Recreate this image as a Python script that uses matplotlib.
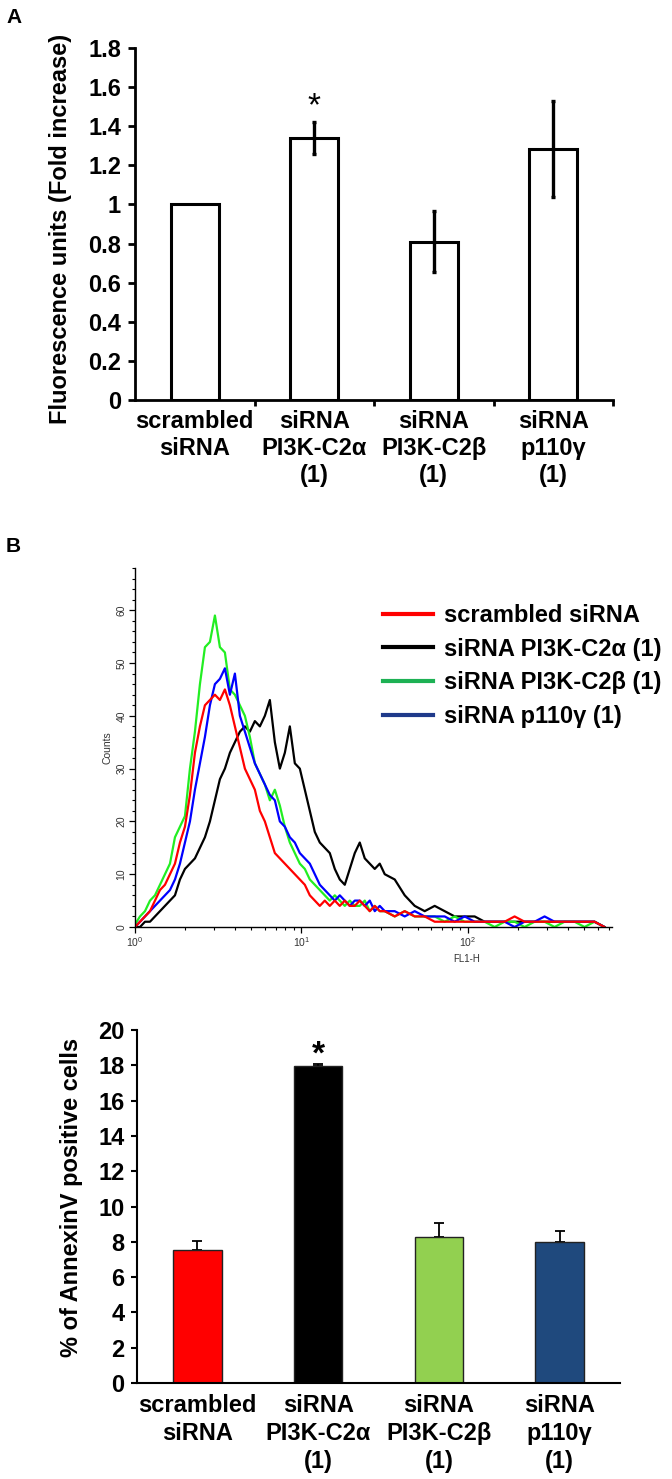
import matplotlib
matplotlib.use("Agg")
import matplotlib.pyplot as plt
from matplotlib.lines import Line2D
from matplotlib.ticker import MultipleLocator, LogLocator, NullFormatter, FixedLocator
import numpy as np

plt.rcParams['font.family'] = ['Liberation Sans', 'DejaVu Sans']

W, H = 672, 1479

# ---- data ----
groups = ["scrambled\nsiRNA", "siRNA\nPI3K-C2α\n(1)", "siRNA\nPI3K-C2β\n(1)", "siRNA\np110γ\n(1)"]

# panel A: fluorescence (fold increase)
fold_mean = [1.0, 1.34, 0.81, 1.285]
fold_err = [0.0, 0.08, 0.157, 0.245]

# panel B bottom: % AnnexinV positive cells
annexin_mean = [7.55, 17.97, 8.25, 8.0]
annexin_err = [0.52, 0.1, 0.8, 0.6]
annexin_colors = ["#FF0000", "#000000", "#92D050", "#1F497D"]

# panel B histogram: FL1-H (log10 channel position) and counts
fl1_log = [0.00, 0.03, 0.06, 0.09, 0.12, 0.15, 0.18, 0.21, 0.24, 0.27,
           0.30, 0.33, 0.36, 0.39, 0.42, 0.45, 0.48, 0.51, 0.54, 0.57,
           0.60, 0.63, 0.66, 0.69, 0.72, 0.75, 0.78, 0.81, 0.84, 0.87,
           0.90, 0.93, 0.96, 0.99, 1.02, 1.05, 1.08, 1.11, 1.14, 1.17,
           1.20, 1.23, 1.26, 1.29, 1.32, 1.35, 1.38, 1.41, 1.44, 1.47,
           1.50, 1.56, 1.62, 1.68, 1.74, 1.80, 1.86, 1.92, 1.98, 2.04,
           2.10, 2.16, 2.22, 2.28, 2.34, 2.40, 2.46, 2.52, 2.58, 2.64,
           2.70, 2.76, 2.82]
counts_scrambled = [0, 1, 2, 3, 5, 7, 8, 10, 12, 16,
                    19, 25, 33, 38, 42, 43, 44, 43, 45, 42,
                    38, 34, 30, 28, 26, 22, 20, 17, 14, 13,
                    12, 11, 10, 9, 8, 6, 5, 4, 5, 4,
                    5, 4, 5, 4, 4, 5, 4, 3, 4, 3,
                    3, 2, 3, 2, 2, 1, 1, 1, 1, 1,
                    1, 1, 1, 2, 1, 1, 1, 1, 1, 1,
                    1, 1, 0]
counts_c2a = [0, 0, 1, 1, 2, 3, 4, 5, 6, 9,
              11, 12, 13, 15, 17, 20, 24, 28, 30, 33,
              35, 37, 38, 37, 39, 38, 40, 43, 35, 30,
              33, 38, 31, 30, 26, 22, 18, 16, 15, 14,
              11, 9, 8, 11, 14, 16, 13, 12, 11, 12,
              10, 9, 6, 4, 3, 4, 3, 2, 2, 2,
              1, 1, 1, 1, 1, 1, 1, 1, 1, 1,
              1, 1, 0]
counts_c2b = [0.5, 2, 3, 5, 6, 8, 10, 12, 17, 19,
              21, 30, 37, 46, 53, 54, 59, 53, 52, 45,
              44, 42, 40, 36, 31, 29, 27, 24, 26, 23,
              19, 16, 14, 12, 11, 9, 8, 7, 6, 5,
              6, 5, 4, 5, 4, 4, 5, 3, 4, 3,
              3, 2, 3, 2, 2, 2, 1, 2, 1, 1,
              1, 0, 1, 1, 0, 1, 1, 0, 1, 1,
              0, 1, 0]
counts_p110 = [0, 1, 2, 3, 4, 5, 6, 7, 9, 12,
               16, 20, 26, 31, 36, 42, 46, 47, 49, 44,
               48, 40, 37, 34, 31, 29, 27, 25, 24, 20,
               19, 17, 16, 14, 13, 12, 10, 8, 7, 6,
               5, 6, 5, 4, 5, 5, 4, 5, 3, 4,
               3, 3, 2, 3, 2, 2, 2, 1, 2, 1,
               1, 1, 1, 0, 1, 1, 2, 1, 1, 1,
               1, 1, 0]
legend_labels = ["scrambled siRNA", "siRNA PI3K-C2α (1)", "siRNA PI3K-C2β (1)", "siRNA p110γ (1)"]

fig = plt.figure(figsize=(W / 100, H / 100), dpi=100)

# ---- panel A ----
ax1 = fig.add_axes([135 / W, 1 - 400 / H, 478 / W, 352 / H])
x = np.arange(len(groups))
ax1.bar(x, fold_mean, width=0.4, color="white", edgecolor="black", linewidth=2.2, zorder=2)
err_idx = [i for i in range(len(groups)) if fold_err[i] > 0]
ax1.errorbar(x[err_idx], np.array(fold_mean)[err_idx], yerr=np.array(fold_err)[err_idx],
             fmt="none", ecolor="black", elinewidth=2.4, capsize=1.5, capthick=2.4, zorder=3)
ax1.set_xlim(-0.5, 3.5)
ax1.set_ylim(0, 1.8)
ax1.set_yticks(np.arange(0, 1.81, 0.2))
ax1.set_yticklabels(["%g" % v for v in np.round(np.arange(0, 1.81, 0.2), 1)])
ax1.set_xticks(x)
ax1.set_xticklabels(groups, linespacing=1.22)
ax1.xaxis.set_minor_locator(FixedLocator([0.5, 1.5, 2.5, 3.5]))
for s in ["top", "right"]:
    ax1.spines[s].set_visible(False)
for s in ["left", "bottom"]:
    ax1.spines[s].set_linewidth(2)
ax1.tick_params(axis="y", direction="out", length=5, width=2, labelsize=17, pad=5)
ax1.tick_params(axis="x", which="major", length=0, labelsize=17, pad=7)
ax1.tick_params(axis="x", which="minor", direction="out", length=4, width=2)
for lab in ax1.get_yticklabels() + ax1.get_xticklabels():
    lab.set_fontweight("bold")
ax1.text(1, 1.50, "*", ha="center", va="center", fontsize=24)
fig.text(61 / W, 1 - 229 / H, "Fluorescence units (Fold increase)", rotation=90,
         ha="center", va="center", fontsize=17, fontweight="bold")
fig.text(6 / W, 1 - 8 / H, "A", ha="left", va="top", fontsize=15, fontweight="bold")

# ---- panel B histogram ----
ax2 = fig.add_axes([135 / W, 1 - 927 / H, 477 / W, 359 / H])
fl1 = 10 ** np.array(fl1_log)
ax2.plot(fl1, counts_c2a, color="black", lw=1.6)
ax2.plot(fl1, counts_c2b, color="#22EE22", lw=1.6)
ax2.plot(fl1, counts_p110, color="#0000FF", lw=1.6)
ax2.plot(fl1, counts_scrambled, color="#FF0000", lw=1.6)
ax2.set_xscale("log")
ax2.set_xlim(1, 10 ** 2.865)
ax2.set_ylim(0, 68)
ax2.yaxis.set_major_locator(MultipleLocator(10))
ax2.yaxis.set_minor_locator(MultipleLocator(2))
ax2.xaxis.set_major_locator(LogLocator(base=10))
ax2.xaxis.set_minor_locator(LogLocator(base=10, subs=np.arange(2, 10)))
ax2.xaxis.set_minor_formatter(NullFormatter())
for s in ["top", "right"]:
    ax2.spines[s].set_visible(False)
for s in ["left", "bottom"]:
    ax2.spines[s].set_linewidth(1.0)
ax2.tick_params(axis="both", which="major", direction="out", length=4, width=0.9,
                labelsize=7.5, labelcolor="#333333", pad=2)
ax2.tick_params(axis="both", which="minor", direction="out", length=2.5, width=0.8)
for lab in ax2.get_yticklabels():
    lab.set_rotation(90)
    lab.set_va("center")
ax2.set_ylabel("Counts", fontsize=7.5, color="#333333", labelpad=3)
fig.text(467 / W, 1 - 959 / H, "FL1-H", ha="center", va="center", fontsize=7, color="#333333")

handles = [Line2D([], [], color=c, lw=3) for c in ["#FF0000", "#000000", "#1DB154", "#1F3A8A"]]
ax2.legend(handles, legend_labels, loc="upper left", bbox_to_anchor=(383 / W, 1 - 604 / H),
           bbox_transform=fig.transFigure, frameon=False, borderpad=0, borderaxespad=0,
           handlelength=2.1, handletextpad=0.5, labelspacing=0.45,
           prop={"size": 17, "weight": "bold"})
fig.text(6 / W, 1 - 537 / H, "B", ha="left", va="top", fontsize=15, fontweight="bold")

# ---- panel B bars ----
ax3 = fig.add_axes([137 / W, 1 - 1383 / H, 483 / W, 353 / H])
ax3.bar(x, annexin_mean, width=0.4, color=annexin_colors, edgecolor="#222222", linewidth=1.0, zorder=2)
ax3.errorbar(x, annexin_mean, yerr=[np.zeros(len(x)), annexin_err], fmt="none",
             ecolor="black", elinewidth=1.3, capsize=3.5, capthick=1.3, zorder=1)
ax3.set_xlim(-0.5, 3.5)
ax3.set_ylim(0, 20)
ax3.yaxis.set_major_locator(MultipleLocator(2))
ax3.set_xticks(x)
ax3.set_xticklabels(groups, linespacing=1.28)
for s in ["top", "right"]:
    ax3.spines[s].set_visible(False)
for s in ["left", "bottom"]:
    ax3.spines[s].set_linewidth(1.5)
ax3.tick_params(axis="y", direction="out", length=4, width=1.5, labelsize=17, pad=5)
ax3.tick_params(axis="x", length=0, labelsize=17, pad=8)
for lab in ax3.get_yticklabels() + ax3.get_xticklabels():
    lab.set_fontweight("bold")
ax3.text(1, 18.6, "*", ha="center", va="center", fontsize=24, fontweight="bold")
fig.text(72 / W, 1 - 1197 / H, "% of AnnexinV positive cells", rotation=90,
         ha="center", va="center", fontsize=17, fontweight="bold")

fig.savefig("out.png", dpi=100)
